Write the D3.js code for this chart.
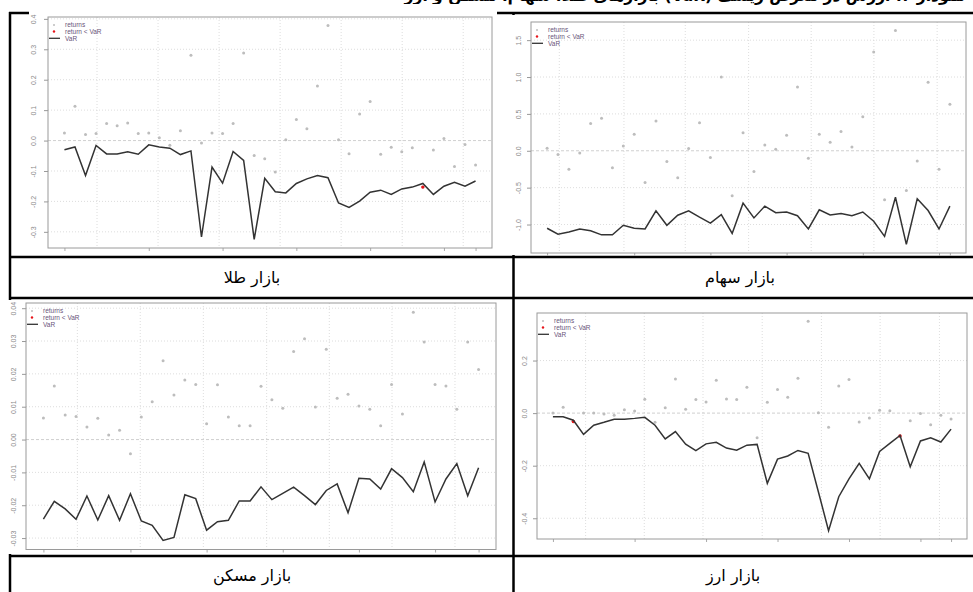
<!DOCTYPE html>
<html>
<head>
<meta charset="utf-8">
<script src="https://cdn.jsdelivr.net/npm/d3@7"></script>
<style>
  body { margin: 0; background: #fff; }
  svg { display: block; }
</style>
</head>
<body>
<svg id="page" width="973" height="592"></svg>
<script>
// values (index 1..n on x)
const goldReturns = [0.025, 0.113, 0.020, 0.023, 0.056, 0.049, 0.058, 0.023, 0.025, 0.009,
  -0.015, 0.032, 0.280, -0.008, 0.025, 0.023, 0.056, 0.288, -0.049, -0.060,
  -0.103, 0.003, 0.069, 0.039, 0.179, 0.378, 0.003, -0.043, 0.087, 0.128,
  -0.045, -0.022, -0.037, -0.024, -0.153, -0.031, 0.007, -0.085, -0.013, -0.080];
const goldVaR = [-0.030, -0.021, -0.115, -0.016, -0.044, -0.044, -0.037, -0.045, -0.014, -0.021,
  -0.025, -0.046, -0.034, -0.317, -0.087, -0.140, -0.036, -0.065, -0.325, -0.124,
  -0.168, -0.172, -0.141, -0.126, -0.115, -0.122, -0.205, -0.220, -0.199, -0.170,
  -0.163, -0.177, -0.159, -0.153, -0.141, -0.177, -0.150, -0.137, -0.150, -0.133];
const goldTicks = [-0.3, -0.2, -0.1, 0, 0.1, 0.2, 0.3, 0.4];
const goldTickLabels = ["-0.3", "-0.2", "-0.1", "0.0", "0.1", "0.2", "0.3", "0.4"];
const goldGridX = [4.09, 9.88, 15.67, 21.46, 27.25, 33.04, 38.83];

const stockReturns = [0.035, -0.05, -0.25, -0.03, 0.37, 0.44, -0.23, 0.065, 0.225, -0.43,
  0.405, -0.145, -0.365, 0.03, 0.38, -0.09, 1.0, -0.61, 0.245, -0.28,
  0.08, 0.02, 0.21, 0.865, -0.1, 0.225, 0.115, 0.26, 0.05, 0.46,
  1.34, -0.665, 1.63, -0.54, -0.14, 0.93, -0.25, 0.63];
const stockVaR = [-1.05, -1.13, -1.10, -1.06, -1.085, -1.14, -1.14, -1.01, -1.05, -1.06,
  -0.815, -1.01, -0.874, -0.815, -0.90, -0.98, -0.865, -1.12, -0.71, -0.91,
  -0.75, -0.84, -0.83, -0.88, -1.06, -0.80, -0.87, -0.85, -0.88, -0.83,
  -0.955, -1.16, -0.63, -1.27, -0.65, -0.81, -1.06, -0.75];
const stockTicks = [-1.0, -0.5, 0, 0.5, 1.0, 1.5];
const stockTickLabels = ["-1.0", "-0.5", "0.0", "0.5", "1.0", "1.5"];
const stockGridX = [2.12, 8.06, 13.69, 19.51, 25.26, 31.02, 36.83];

const housingReturns = [0.0066, 0.0163, 0.0075, 0.0070, 0.0038, 0.0065, 0.0014, 0.0028, -0.0043, 0.0069,
  0.0115, 0.0240, 0.0136, 0.0181, 0.0168, 0.0048, 0.0167, 0.0069, 0.0042, 0.0042,
  0.0162, 0.0121, 0.0095, 0.0268, 0.0307, 0.0099, 0.0275, 0.0126, 0.0138, 0.0102,
  0.0092, 0.0042, 0.0168, 0.0078, 0.0388, 0.0297, 0.0168, 0.0163, 0.0092, 0.0297, 0.0213];
const housingVaR = [-0.0242, -0.0188, -0.0211, -0.0243, -0.0172, -0.0245, -0.0171, -0.0246, -0.0165, -0.0248,
  -0.0261, -0.0307, -0.0298, -0.0168, -0.0180, -0.0276, -0.0250, -0.0246, -0.0187, -0.0187,
  -0.0144, -0.0183, -0.0164, -0.0145, -0.0171, -0.0198, -0.0155, -0.0135, -0.0223, -0.0118,
  -0.0120, -0.0151, -0.0089, -0.0116, -0.0159, -0.0068, -0.0190, -0.0120, -0.0073, -0.0171, -0.0086];
const housingTicks = [-0.03, -0.02, -0.01, 0, 0.01, 0.02, 0.03, 0.04];
const housingTickLabels = ["-0.03", "-0.02", "-0.01", "0.00", "0.01", "0.02", "0.03", "0.04"];
const housingGridX = [4.12, 9.9, 15.7, 21.52, 27.28, 33.04, 38.83];

const fxReturns = [0.0, 0.022, -0.032, 0.0, 0.0, -0.003, -0.008, 0.013, 0.008, 0.053,
  -0.035, 0.02, 0.13, 0.015, 0.052, 0.042, 0.125, 0.054, 0.052, 0.098,
  -0.094, 0.041, 0.09, 0.06, 0.133, 0.349, 0.001, -0.054, 0.103, 0.128,
  -0.034, -0.019, 0.011, 0.009, -0.087, -0.029, -0.001, -0.044, -0.008, -0.022];
const fxVaR = [-0.014, -0.014, -0.027, -0.081, -0.046, -0.035, -0.023, -0.023, -0.020, -0.016,
  -0.046, -0.098, -0.070, -0.118, -0.143, -0.117, -0.111, -0.133, -0.141, -0.122,
  -0.119, -0.267, -0.175, -0.163, -0.142, -0.153, -0.299, -0.447, -0.318, -0.250,
  -0.191, -0.250, -0.146, -0.115, -0.085, -0.204, -0.106, -0.094, -0.110, -0.061];
const fxTicks = [-0.4, -0.2, 0, 0.2];
const fxTickLabels = ["-0.4", "-0.2", "0.0", "0.2"];
const fxGridX = [4.2, 9.95, 15.7, 21.5, 27.3, 33.05, 38.86];

const xTickIdx = [1, 9, 16, 23, 30, 37];
const legendLabels = ["returns", "return < VaR", "VaR"];
const cellLabels = ["بازار طلا", "بازار سهام", "بازار مسکن", "بازار ارز"];
const titleText = "نمودار ۴: ارزش در معرض ریسک (VaR) بازارهای طلا، سهام، مسکن و ارز";

const svg = d3.select("#page");

// table grid behind the pictures
const tbl = svg.append("g").attr("stroke", "#000").attr("stroke-width", 2.5);
[13, 257, 298, 556].forEach(yy => tbl.append("line").attr("x1", 9).attr("x2", 973).attr("y1", yy).attr("y2", yy));
[10, 513.5].forEach(xx => tbl.append("line").attr("x1", xx).attr("x2", xx).attr("y1", 12).attr("y2", 592));

// title (only its lower edge shows in the page)
svg.append("text")
  .attr("x", 965).attr("y", 1)
  .attr("text-anchor", "start").attr("direction", "rtl")
  .attr("font-family", "DejaVu Sans").attr("font-weight", "bold").attr("font-size", 15.5)
  .text(titleText);

// cell captions
const capPos = [[252, 283], [740, 283], [252, 581], [733, 581]];
cellLabels.forEach((t, i) => {
  svg.append("text")
    .attr("x", capPos[i][0]).attr("y", capPos[i][1])
    .attr("text-anchor", "middle")
    .attr("font-family", "DejaVu Sans").attr("font-size", 16).attr("fill", "#000")
    .text(t);
});

function varPanel(o) {
  const n = o.returns.length;
  const all = o.returns.concat(o.var);
  const lo = d3.min(all), hi = d3.max(all);
  const py = (hi - lo) * 0.04, px = (n - 1) * 0.04;
  const b = o.box;
  const x = d3.scaleLinear().domain([1 - px, n + px]).range([b.x0, b.x1]);
  const y = d3.scaleLinear().domain([lo - py, hi + py]).range([b.y1, b.y0]);
  const g = svg.append("g");

  // picture background
  g.append("rect").attr("x", o.img[0]).attr("y", o.img[1])
    .attr("width", o.img[2] - o.img[0]).attr("height", o.img[3] - o.img[1]).attr("fill", "#fff");

  // grid
  g.selectAll(".hg").data(o.ticks.filter(v => v !== 0)).enter().append("line")
    .attr("x1", b.x0).attr("x2", b.x1).attr("y1", d => y(d)).attr("y2", d => y(d))
    .attr("stroke", "#d4d4d4").attr("stroke-width", 0.8).attr("stroke-dasharray", "1,2");
  g.selectAll(".vg").data(o.gridX).enter().append("line")
    .attr("x1", d => x(d)).attr("x2", d => x(d)).attr("y1", b.y0).attr("y2", b.y1)
    .attr("stroke", "#d4d4d4").attr("stroke-width", 0.8).attr("stroke-dasharray", "1,2");
  g.append("line").attr("x1", b.x0).attr("x2", b.x1).attr("y1", y(0)).attr("y2", y(0))
    .attr("stroke", "#c4c4c4").attr("stroke-width", 0.8).attr("stroke-dasharray", "3,2");

  // y axis: ticks outside, labels turned
  const ya = g.append("g").attr("transform", `translate(${b.x0},0)`)
    .call(d3.axisLeft(y).tickValues(o.ticks).tickSize(4).tickFormat((d, i) => o.labels[i]));
  ya.select(".domain").remove();
  ya.selectAll("line").attr("stroke", "#999");
  ya.selectAll("text")
    .attr("transform", "rotate(-90)")
    .attr("x", 0).attr("y", -(b.x0 - o.labelX - 2.5)).attr("dy", 0)
    .attr("text-anchor", "middle")
    .attr("font-family", "Liberation Sans, Arial").attr("font-size", 7).attr("fill", "#8a8a8a");

  // x axis ticks without labels
  const xa = g.append("g").attr("transform", `translate(0,${b.y1})`)
    .call(d3.axisBottom(x).tickValues(xTickIdx.concat([n])).tickSize(3).tickFormat(""));
  xa.select(".domain").remove();
  xa.selectAll("line").attr("stroke", "#aaa");

  // plot box
  g.append("rect").attr("x", b.x0).attr("y", b.y0).attr("width", b.x1 - b.x0).attr("height", b.y1 - b.y0)
    .attr("fill", "none").attr("stroke", "#9a9a9a").attr("stroke-width", 1);

  // returns
  g.selectAll(".ret").data(o.returns).enter().append("circle")
    .attr("cx", (d, i) => x(i + 1)).attr("cy", d => y(d)).attr("r", 1.5).attr("fill", "#bdbdbd");
  // breaches
  const br = o.returns.map((d, i) => ({ i, d })).filter(p => p.d < o.var[p.i]);
  g.selectAll(".brk").data(br).enter().append("circle")
    .attr("cx", p => x(p.i + 1)).attr("cy", p => y(p.d)).attr("r", 1.7).attr("fill", "#e8141a");
  // VaR line
  g.append("path").datum(o.var)
    .attr("d", d3.line().x((d, i) => x(i + 1)).y(d => y(d)))
    .attr("fill", "none").attr("stroke", "#333").attr("stroke-width", 1.5);

  // legend
  const lg = g.append("g").attr("font-family", "Liberation Sans, Arial").attr("font-size", 6.5).attr("fill", "#6a557a");
  const rows = [8, 14.5, 21.3];
  lg.append("circle").attr("cx", b.x0 + 6).attr("cy", b.y0 + rows[0]).attr("r", 1).attr("fill", "#bdbdbd");
  lg.append("circle").attr("cx", b.x0 + 6).attr("cy", b.y0 + rows[1]).attr("r", 1.2).attr("fill", "#e8141a");
  lg.append("line").attr("x1", b.x0 + 1).attr("x2", b.x0 + 12).attr("y1", b.y0 + rows[2]).attr("y2", b.y0 + rows[2])
    .attr("stroke", "#333").attr("stroke-width", 1.3);
  legendLabels.forEach((t, i) => {
    lg.append("text").attr("x", b.x0 + 17).attr("y", b.y0 + rows[i] + 2.3).text(t);
  });
}

varPanel({ returns: goldReturns, var: goldVaR, ticks: goldTicks, labels: goldTickLabels, gridX: goldGridX,
  box: { x0: 48, x1: 492, y0: 17, y1: 248 }, labelX: 33, img: [29, 4, 497, 255] });
varPanel({ returns: stockReturns, var: stockVaR, ticks: stockTicks, labels: stockTickLabels, gridX: stockGridX,
  box: { x0: 531, x1: 966, y0: 22, y1: 253 }, labelX: 518, img: [512, 15, 973, 255] });
varPanel({ returns: housingReturns, var: housingVaR, ticks: housingTicks, labels: housingTickLabels, gridX: housingGridX,
  box: { x0: 26, x1: 496, y0: 303, y1: 549.5 }, labelX: 13, img: [3, 300, 510, 554] });
varPanel({ returns: fxReturns, var: fxVaR, ticks: fxTicks, labels: fxTickLabels, gridX: fxGridX,
  box: { x0: 537, x1: 967, y0: 313, y1: 539 }, labelX: 524, img: [516, 300, 973, 554] });
</script>
</body>
</html>
